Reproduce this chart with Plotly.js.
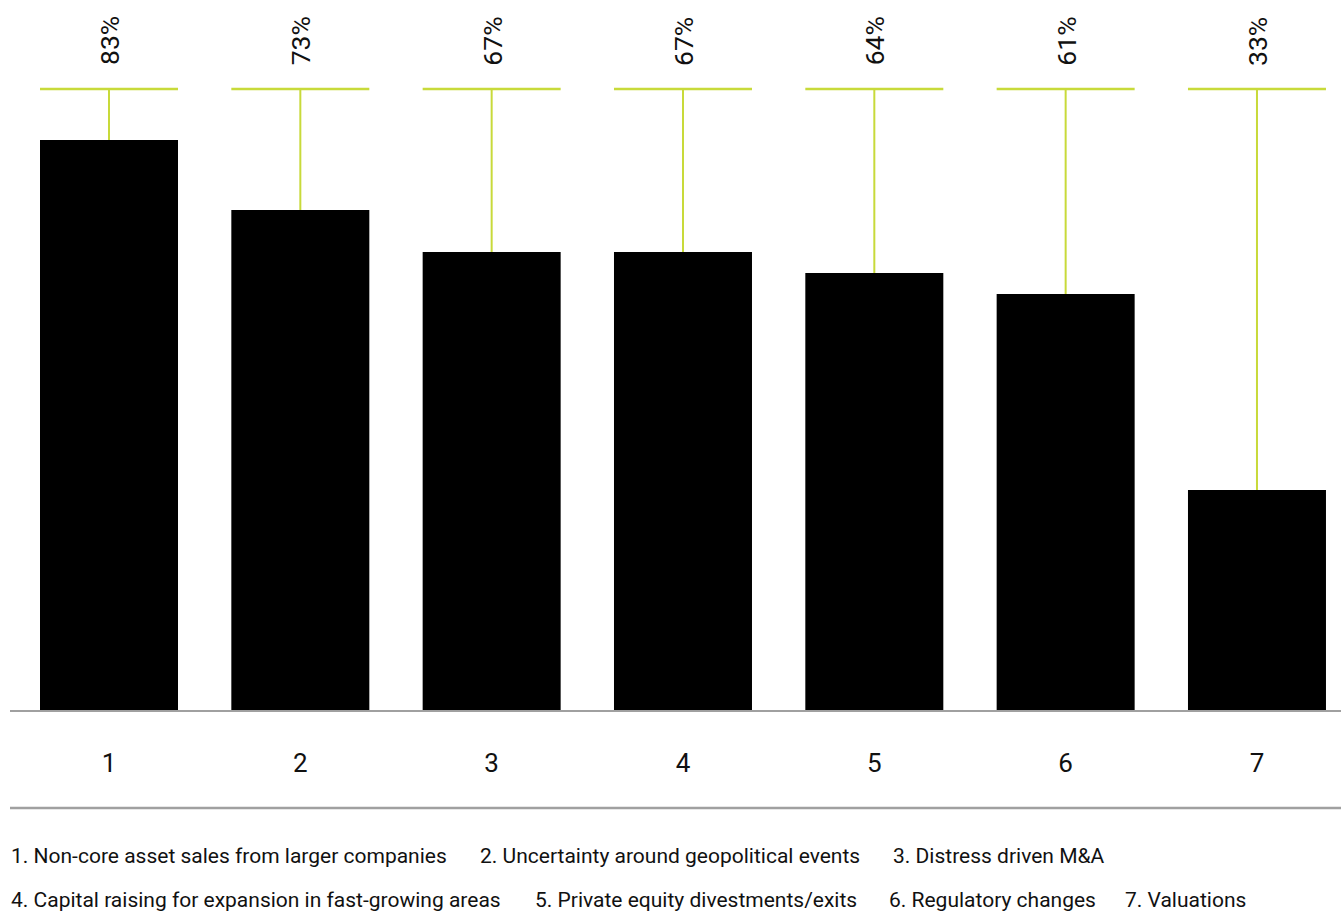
<!DOCTYPE html>
<html>
<head>
<meta charset="utf-8">
<script src="https://cdn.plot.ly/plotly-3.0.1.min.js"></script>
<style>
  html, body { margin: 0; padding: 0; background: #ffffff; }
  #chart { width: 1341px; height: 911px; }
</style>
</head>
<body>
<div id="chart"></div>
<script>
// ---- data ----
const categories = ["1", "2", "3", "4", "5", "6", "7"];
const values = [83, 73, 67, 67, 64, 61, 33];
const valueLabels = ["83%", "73%", "67%", "67%", "64%", "61%", "33%"];
const legendItems = [
  "1. Non-core asset sales from larger companies",
  "2. Uncertainty around geopolitical events",
  "3. Distress driven M&A",
  "4. Capital raising for expansion in fast-growing areas",
  "5. Private equity divestments/exits",
  "6. Regulatory changes",
  "7. Valuations"
];

// ---- layout constants ----
const W = 1341, H = 911;
const plotLeft = 10, plotBottom = 710;
const pxPerUnit = 7.0;
const zeroPx = 721;
const yMin = (zeroPx - plotBottom) / pxPerUnit;
const yMax = yMin + plotBottom / pxPerUnit;
const capLevel = (zeroPx - 89) / pxPerUnit;
const labelLevel = (zeroPx - 41) / pxPerUnit;
const green = "#c8da3a";
const grey = "#a0a0a0";
const textColor = "#111111";
const font = "Roboto, 'Open Sans', Arial, sans-serif";

// legend placement (pixel x, pixel y center)
const legendPos = [[9, 856], [478, 856], [891, 856], [9, 900], [533, 900], [887, 900], [1123, 900]];

const plotW = W - plotLeft;
const px2paperX = px => (px - plotLeft) / plotW;
const px2paperY = py => (plotBottom - py) / plotBottom;

const bars = {
  type: "bar",
  x: categories,
  y: values,
  marker: { color: "#000000", line: { width: 0 } },
  error_y: {
    type: "data",
    symmetric: false,
    array: values.map(v => capLevel - v),
    arrayminus: values.map(() => 0),
    width: 0,
    thickness: 2,
    color: green
  },
  hoverinfo: "skip",
  showlegend: false
};

const caps = {
  type: "scatter",
  mode: "markers",
  x: categories,
  y: categories.map(() => capLevel),
  marker: {
    symbol: "line-ew",
    size: 138 / 1.4,
    color: green,
    line: { color: green, width: 2.5 }
  },
  hoverinfo: "skip",
  showlegend: false,
  cliponaxis: false
};

const annotations = [];
categories.forEach((c, i) => {
  annotations.push({
    x: i, y: labelLevel, xref: "x", yref: "y",
    text: valueLabels[i],
    textangle: -90,
    showarrow: false,
    xanchor: "center", yanchor: "middle",
    font: { family: font, size: 26.5, color: textColor }
  });
});
legendItems.forEach((t, i) => {
  annotations.push({
    x: px2paperX(legendPos[i][0]), y: px2paperY(legendPos[i][1]),
    xref: "paper", yref: "paper",
    text: t, showarrow: false,
    xanchor: "left", yanchor: "middle",
    font: { family: font, size: 21, color: textColor }
  });
});

const layout = {
  width: W, height: H,
  margin: { l: plotLeft, r: 0, t: 0, b: H - plotBottom, pad: 0 },
  paper_bgcolor: "#ffffff",
  plot_bgcolor: "#ffffff",
  bargap: 1 - 138 / 191.33,
  showlegend: false,
  xaxis: {
    type: "category",
    range: [(plotLeft - 109) / 191.33, (W - 109) / 191.33],
    showline: true, linecolor: grey, linewidth: 2,
    showgrid: false, zeroline: false,
    ticks: "", ticklabelstandoff: 29,
    tickfont: { family: font, size: 26, color: textColor },
    fixedrange: true
  },
  yaxis: {
    range: [yMin, yMax],
    visible: false, showgrid: false, zeroline: false,
    fixedrange: true
  },
  shapes: [{
    type: "line", xref: "paper", yref: "paper",
    x0: 0, x1: 1, y0: px2paperY(808), y1: px2paperY(808),
    line: { color: grey, width: 2.5 }
  }],
  annotations: annotations
};

Plotly.newPlot("chart", [bars, caps], layout, { displayModeBar: false, staticPlot: true });
</script>
</body>
</html>
